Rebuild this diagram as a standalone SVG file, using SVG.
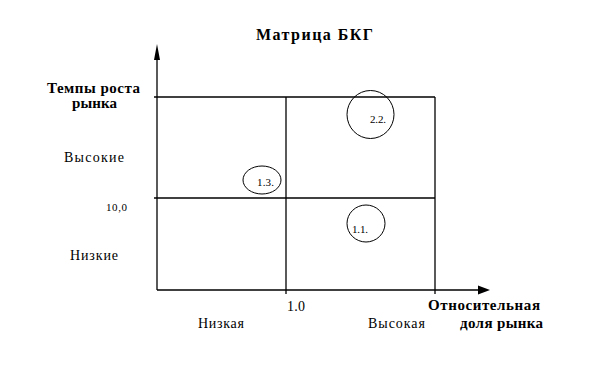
<svg xmlns="http://www.w3.org/2000/svg" width="600" height="373" viewBox="0 0 600 373">
<style>
text{font-family:'Liberation Serif','Tinos','DejaVu Serif',serif;fill:#000}
.b{font-weight:bold;font-size:15px}
.t{font-weight:bold;font-size:16px}
.r{font-size:14px}
.s{font-size:11px}
.ln{stroke:#000;stroke-width:1.3;fill:none}
.c{stroke:#000;stroke-width:1;fill:none}
</style>
<rect width="600" height="373" fill="#fff"/>
<g id="connectors">
<line class="ln" x1="157" y1="290" x2="157" y2="56"/>
<polygon points="157,44 154,60 160,60" fill="#000"/>
<line class="ln" x1="157" y1="290" x2="480" y2="290"/>
<polygon points="490,290 478,285.5 478,294.5" fill="#000"/>
</g>
<g id="grid">
<line class="ln" x1="154" y1="97" x2="435" y2="97"/>
<line class="ln" x1="154" y1="198" x2="435" y2="198"/>
<line class="ln" x1="435" y1="97" x2="435" y2="294"/>
<line class="ln" x1="286" y1="97" x2="286" y2="294"/>
</g>
<g id="title">
<text class="t" x="256" y="40" textLength="117">Матрица БКГ</text>
</g>
<g id="yaxis-labels">
<text class="b" x="47" y="93" textLength="93">Темпы роста</text>
<text class="b" x="72" y="108" textLength="45">рынка</text>
<text class="r" x="64" y="162" textLength="60">Высокие</text>
<text class="s" x="106" y="211" textLength="21">10,0</text>
<text class="r" x="70" y="260" textLength="48">Низкие</text>
</g>
<g id="xaxis-labels">
<text class="r" x="287" y="311" textLength="18">1.0</text>
<text class="r" x="198" y="328" textLength="46">Низкая</text>
<text class="r" x="368" y="328" textLength="57">Высокая</text>
<text class="b" x="428" y="310" textLength="112">Относительная</text>
<text class="b" x="460" y="328" textLength="83">доля рынка</text>
</g>
<g id="node-2-2">
<ellipse class="c" cx="370.5" cy="114.5" rx="23.5" ry="24"/>
<text class="s" x="370" y="123" textLength="16">2.2.</text>
</g>
<g id="node-1-3">
<ellipse class="c" cx="262" cy="180" rx="19" ry="14"/>
<text class="s" x="257" y="186" textLength="17">1.3.</text>
</g>
<g id="node-1-1">
<ellipse class="c" cx="366" cy="223.5" rx="19" ry="18.5"/>
<text class="s" x="352" y="233" textLength="16">1.1.</text>
</g>
</svg>
